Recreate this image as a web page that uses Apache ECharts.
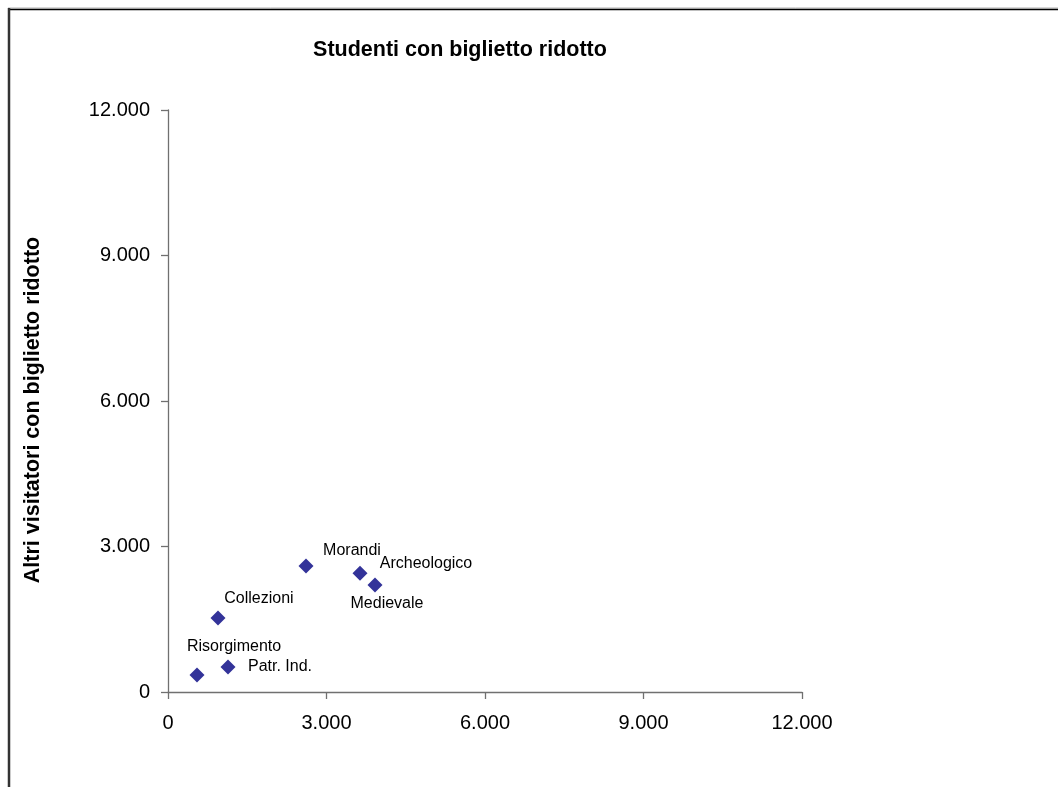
<!DOCTYPE html>
<html>
<head>
<meta charset="utf-8">
<script src="https://cdn.jsdelivr.net/npm/echarts@6/dist/echarts.min.js"></script>
<style>
  html, body { margin: 0; padding: 0; background: #ffffff; }
  #chart { width: 1058px; height: 787px; }
</style>
</head>
<body>
<div id="chart"></div>
<script>
// ---- Data ----
const museumNames = ['Risorgimento', 'Patr. Ind.', 'Collezioni', 'Morandi', 'Archeologico', 'Medievale'];
const studentiRidotto = [549, 1136, 946, 2612, 3634, 3918];      // x values
const altriRidotto   = [350, 515, 1526, 2598, 2450, 2206];       // y values
const xTicks = [0, 3000, 6000, 9000, 12000];
const yTicks = [0, 3000, 6000, 9000, 12000];
const chartTitle = 'Studenti con biglietto ridotto';
const yAxisTitle = 'Altri visitatori con biglietto ridotto';

// ---- Styling (label placement per point) ----
const labelOffsets = {
  'Risorgimento': [37, -28],
  'Patr. Ind.': [52, 0],
  'Collezioni': [41, -19],
  'Morandi': [46, -15],
  'Archeologico': [66, -10],
  'Medievale': [12, 19]
};

const FONT = "'Liberation Sans', Arial, Helvetica, sans-serif";
const fmt = v => String(v).replace(/\B(?=(\d{3})+(?!\d))/g, '.');

const points = museumNames.map((n, i) => ({
  name: n,
  value: [studentiRidotto[i], altriRidotto[i]],
  label: { offset: labelOffsets[n] }
}));

const chart = echarts.init(document.getElementById('chart'), null, { renderer: 'canvas' });
chart.setOption({
  backgroundColor: '#ffffff',
  animation: false,
  title: {
    text: chartTitle,
    left: 455, top: 34, textAlign: 'center',
    textStyle: { fontFamily: FONT, fontSize: 21.5, fontWeight: 'bold', color: '#000' }
  },
  grid: { left: 168, top: 110, right: 256, bottom: 95, containLabel: false },
  xAxis: {
    type: 'value', min: 0, max: 12000, interval: 3000,
    splitLine: { show: false },
    axisLine: { show: true, onZero: false, lineStyle: { color: '#707070', width: 1.3 } },
    axisTick: { show: true, inside: false, length: 7, lineStyle: { color: '#707070', width: 1.3 } },
    axisLabel: { margin: 21, fontFamily: FONT, fontSize: 20, color: '#000', formatter: fmt }
  },
  yAxis: {
    type: 'value', min: 0, max: 12000, interval: 3000,
    name: yAxisTitle,
    nameLocation: 'middle', nameGap: 124, nameRotate: 90,
    nameTextStyle: { fontFamily: FONT, fontSize: 21.5, fontWeight: 'bold', color: '#000', padding: [0, 18, 0, 0] },
    splitLine: { show: false },
    axisLine: { show: true, onZero: false, lineStyle: { color: '#707070', width: 1.3 } },
    axisTick: { show: true, inside: false, length: 7, lineStyle: { color: '#707070', width: 1.3 } },
    axisLabel: { margin: 18, fontFamily: FONT, fontSize: 20, color: '#000', formatter: fmt }
  },
  graphic: [
    { type: 'line', shape: { x1: 8, y1: 8, x2: 1058, y2: 8 }, style: { stroke: '#b0b0b0', lineWidth: 1 }, silent: true },
    { type: 'line', shape: { x1: 8, y1: 9.5, x2: 1058, y2: 9.5 }, style: { stroke: '#000', lineWidth: 1.5 }, silent: true },
    { type: 'line', shape: { x1: 9, y1: 8, x2: 9, y2: 787 }, style: { stroke: '#333', lineWidth: 2.5 }, silent: true }
  ],
  series: [{
    type: 'scatter',
    symbol: 'diamond',
    symbolSize: 15,
    itemStyle: { color: '#333399', opacity: 1 },
    label: {
      show: true,
      position: 'inside',
      align: 'center',
      verticalAlign: 'middle',
      formatter: p => p.name,
      fontFamily: FONT, fontSize: 16, color: '#000', opacity: 1
    },
    data: points
  }]
});
</script>
</body>
</html>
